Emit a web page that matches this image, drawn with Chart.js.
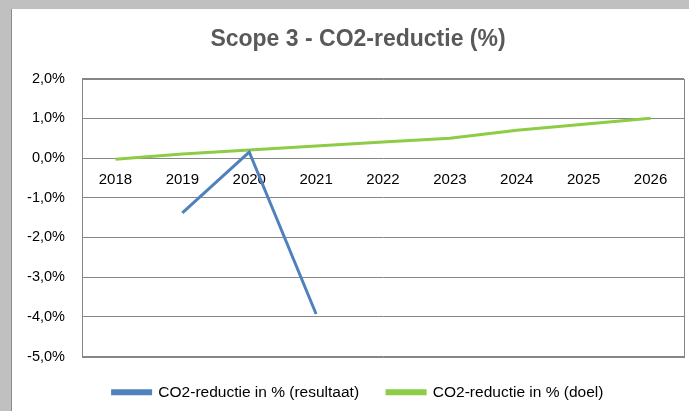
<!DOCTYPE html>
<html>
<head>
<meta charset="utf-8">
<script src="https://cdn.jsdelivr.net/npm/chart.js@4"></script>
<style>
  html, body { margin: 0; padding: 0; background: #c0c0c0; }
  body { width: 689px; height: 411px; position: relative; overflow: hidden; }
  #wrap {
    position: absolute; left: 11px; top: 9px; width: 678px; height: 402px;
    background: #fff; border-left: 1px solid #8a8a8a; box-sizing: border-box;
  }
  #chart { display: block; }
</style>
</head>
<body>
<div id="wrap"><canvas id="chart" width="677" height="402"></canvas></div>
<script>
// chart data
const years = ["2018", "2019", "2020", "2021", "2022", "2023", "2024", "2025", "2026"];
const resultaat = [null, -1.38, 0.15, -3.93, null, null, null, null, null];
const doel = [-0.03, 0.1, 0.2, 0.3, 0.4, 0.5, 0.7, 0.85, 1.0];
const yTicks = [2, 1, 0, -1, -2, -3, -4, -5];

const fontFam = "'Liberation Sans', Arial, sans-serif";

// frame around the plot area + let y labels use the left padding (no clipping)
const plotFrame = {
    id: "plotFrame",
    afterLayout(chart) {
        chart.scales.y.left = 0;
    },
    beforeDatasetsDraw(chart) {
        const { ctx, chartArea: a } = chart;
        ctx.save();
        ctx.strokeStyle = "#868686";
        ctx.lineWidth = 1;
        ctx.strokeRect(Math.round(a.left) + 0.5, Math.round(a.top) + 0.5,
            Math.round(a.right - a.left), Math.round(a.bottom - a.top));
        ctx.restore();
    }
};

const ctx = document.getElementById("chart").getContext("2d");
new Chart(ctx, {
    type: "line",
    data: {
        labels: years,
        datasets: [
            {
                label: "CO2-reductie in % (resultaat)",
                data: resultaat,
                borderColor: "#4f81bd",
                backgroundColor: "#4f81bd",
                borderWidth: 3,
                pointRadius: 0,
                spanGaps: false
            },
            {
                label: "CO2-reductie in % (doel)",
                data: doel,
                borderColor: "#8ccc46",
                backgroundColor: "#8ccc46",
                borderWidth: 3,
                pointRadius: 0
            }
        ]
    },
    options: {
        responsive: false,
        animation: false,
        // left padding shifts title and legend to the right, y axis width compensates
        layout: { padding: { left: 20, right: 5, top: 0, bottom: 1 } },
        plugins: {
            title: {
                display: true,
                text: "Scope 3 - CO2-reductie (%)",
                color: "#595959",
                font: { family: fontFam, size: 23, weight: "bold" },
                padding: { top: 17, bottom: 25 }
            },
            legend: {
                position: "bottom",
                labels: {
                    color: "#000",
                    font: { family: fontFam, size: 15.5 },
                    boxWidth: 38,
                    boxHeight: 3,
                    padding: 28
                }
            },
            tooltip: { enabled: false }
        },
        scales: {
            x: {
                position: { y: 0 },
                offset: true,
                grid: { display: false, drawTicks: false },
                border: { display: false },
                ticks: {
                    color: "#000",
                    font: { family: fontFam, size: 15 },
                    padding: 13,
                    maxRotation: 0
                }
            },
            y: {
                min: -5,
                max: 2,
                afterFit: s => { s.width = 50; },
                afterBuildTicks: s => { s.ticks = yTicks.map(v => ({ value: v })); },
                grid: { color: "#868686", drawTicks: false },
                border: { color: "#868686" },
                ticks: {
                    color: "#000",
                    font: { family: fontFam, size: 14.5 },
                    padding: 17,
                    callback: v => v.toFixed(1).replace(".", ",") + "%"
                }
            }
        }
    },
    plugins: [plotFrame]
});
</script>
</body>
</html>
